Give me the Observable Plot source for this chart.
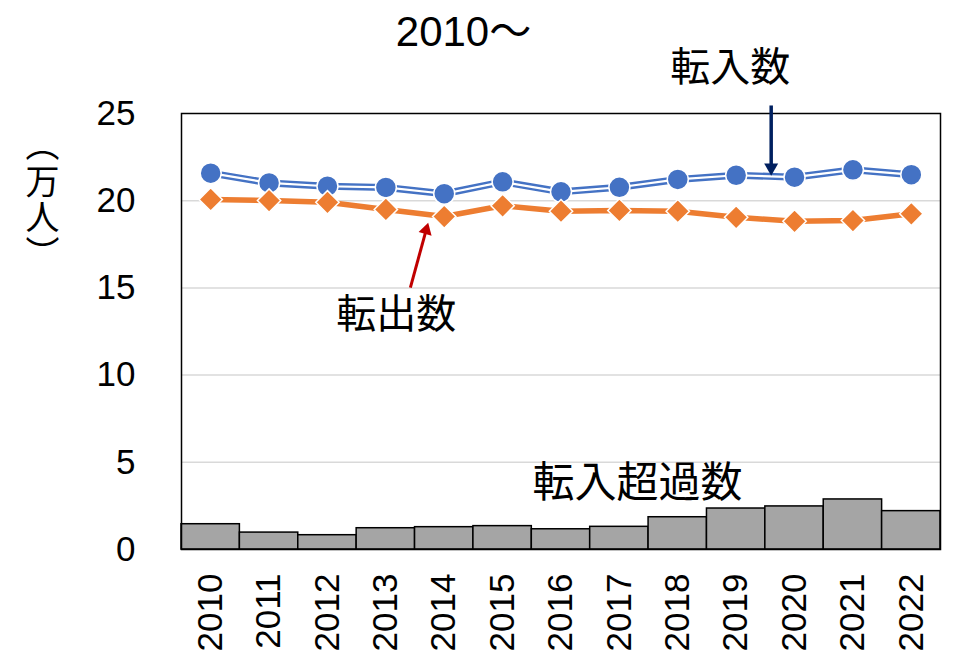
<!DOCTYPE html>
<html>
<head>
<meta charset="utf-8">
<script src="https://cdn.jsdelivr.net/npm/d3@7"></script>
<script src="https://cdn.jsdelivr.net/npm/@observablehq/plot@0.6"></script>
<style>
  body { margin: 0; background: #fff; }
</style>
</head>
<body>
<div id="chart"></div>
<script>
const years = [2010, 2011, 2012, 2013, 2014, 2015, 2016, 2017, 2018, 2019, 2020, 2021, 2022]
// 転入数 (万人)
const tennyu = [21.58, 21.02, 20.83, 20.76, 20.40, 21.08, 20.51, 20.77, 21.22, 21.46, 21.35, 21.77, 21.49]
// 転出数 (万人)
const tenshutsu = [20.07, 20.01, 19.91, 19.50, 19.09, 19.71, 19.40, 19.44, 19.40, 19.05, 18.82, 18.86, 19.25]
// 転入超過数 (万人)
const choka = [1.45, 0.97, 0.82, 1.22, 1.28, 1.34, 1.16, 1.30, 1.85, 2.35, 2.47, 2.87, 2.20]
const yTicks = [0, 5, 10, 15, 20, 25]

const data = years.map((year, i) => ({year, tennyu: tennyu[i], tenshutsu: tenshutsu[i], choka: choka[i]}))

const num = "Liberation Sans, Noto Sans CJK JP, sans-serif"
const jp = "Noto Sans CJK JP, sans-serif"

let chart = Plot.plot({
  width: 953,
  height: 656,
  marginLeft: 181,
  marginRight: 13,
  marginTop: 113,
  marginBottom: 107,
  style: {fontFamily: num, color: "black", background: "white"},
  x: {type: "linear", domain: [2009.5, 2022.5]},
  y: {domain: [0, 25]},
  marks: [
    Plot.gridY([5, 10, 15, 20], {stroke: "#d9d9d9", strokeOpacity: 1, strokeWidth: 1.5}),
    Plot.rectY(data, {x1: d => d.year - 0.5, x2: d => d.year + 0.5, y: "choka", fill: "#a5a5a5", stroke: "black", strokeWidth: 1.5}),
    Plot.frame({stroke: "black", strokeWidth: 1.5}),
    Plot.axisY({ticks: yTicks, tickSize: 0, tickPadding: 46, fontSize: 35, label: null}),
    Plot.axisX({ticks: years, tickFormat: d => String(d), tickRotate: -90, tickSize: 0, tickPadding: 24, fontSize: 35, label: null}),
    // 転入数: double blue line
    Plot.lineY(data, {x: "year", y: "tennyu", stroke: "#4472c4", strokeWidth: 7}),
    Plot.lineY(data, {x: "year", y: "tennyu", stroke: "white", strokeWidth: 2.2}),
    Plot.dot(data, {x: "year", y: "tennyu", r: 10.5, fill: "#4472c4", stroke: "white", strokeWidth: 1.5}),
    // 転出数
    Plot.lineY(data, {x: "year", y: "tenshutsu", stroke: "#ed7d31", strokeWidth: 5.5}),
    Plot.dot(data, {x: "year", y: "tenshutsu", symbol: "diamond2", r: 10.5, fill: "#ed7d31", stroke: "white", strokeWidth: 1.5}),
    // arrows
    Plot.link([{x1: 2019.60, y1: 25.46, x2: 2019.60, y2: 21.95}], {x1: "x1", y1: "y1", x2: "x2", y2: "y2", stroke: "#002060", strokeWidth: 3.5}),
    Plot.dot([{x: 2019.60, y: 21.90}], {x: "x", y: "y", symbol: "triangle", r: 5.2, rotate: 180, fill: "#002060"}),
    Plot.link([{x1: 2013.42, y1: 15.02, x2: 2013.69, y2: 18.31}], {x1: "x1", y1: "y1", x2: "x2", y2: "y2", stroke: "#c00000", strokeWidth: 3}),
    Plot.dot([{x: 2013.69, y: 18.31}], {x: "x", y: "y", symbol: "triangle", r: 5, rotate: 15.5, fill: "#c00000"}),
    // labels
    Plot.text(["2010～"], {x: 2014.33, y: 29.64, fontSize: 42, fill: "black"}),
    Plot.text(["転入数"], {x: 2018.90, y: 27.58, fontSize: 40, fontFamily: jp, fill: "black"}),
    Plot.text(["転出数"], {x: 2013.18, y: 13.42, fontSize: 40, fontFamily: jp, fill: "black"}),
    Plot.text(["転入超過数"], {x: 2017.31, y: 3.78, fontSize: 42, fontFamily: jp, fill: "black"}),
    Plot.text(["︵\n万\n人\n︶"], {frameAnchor: "top-left", textAnchor: "middle", dx: -139, dy: 18, fontSize: 34, lineHeight: 1.07, fontFamily: jp, fill: "black"})
  ]
})
d3.select('#chart').append(() => chart)
</script>
</body>
</html>
